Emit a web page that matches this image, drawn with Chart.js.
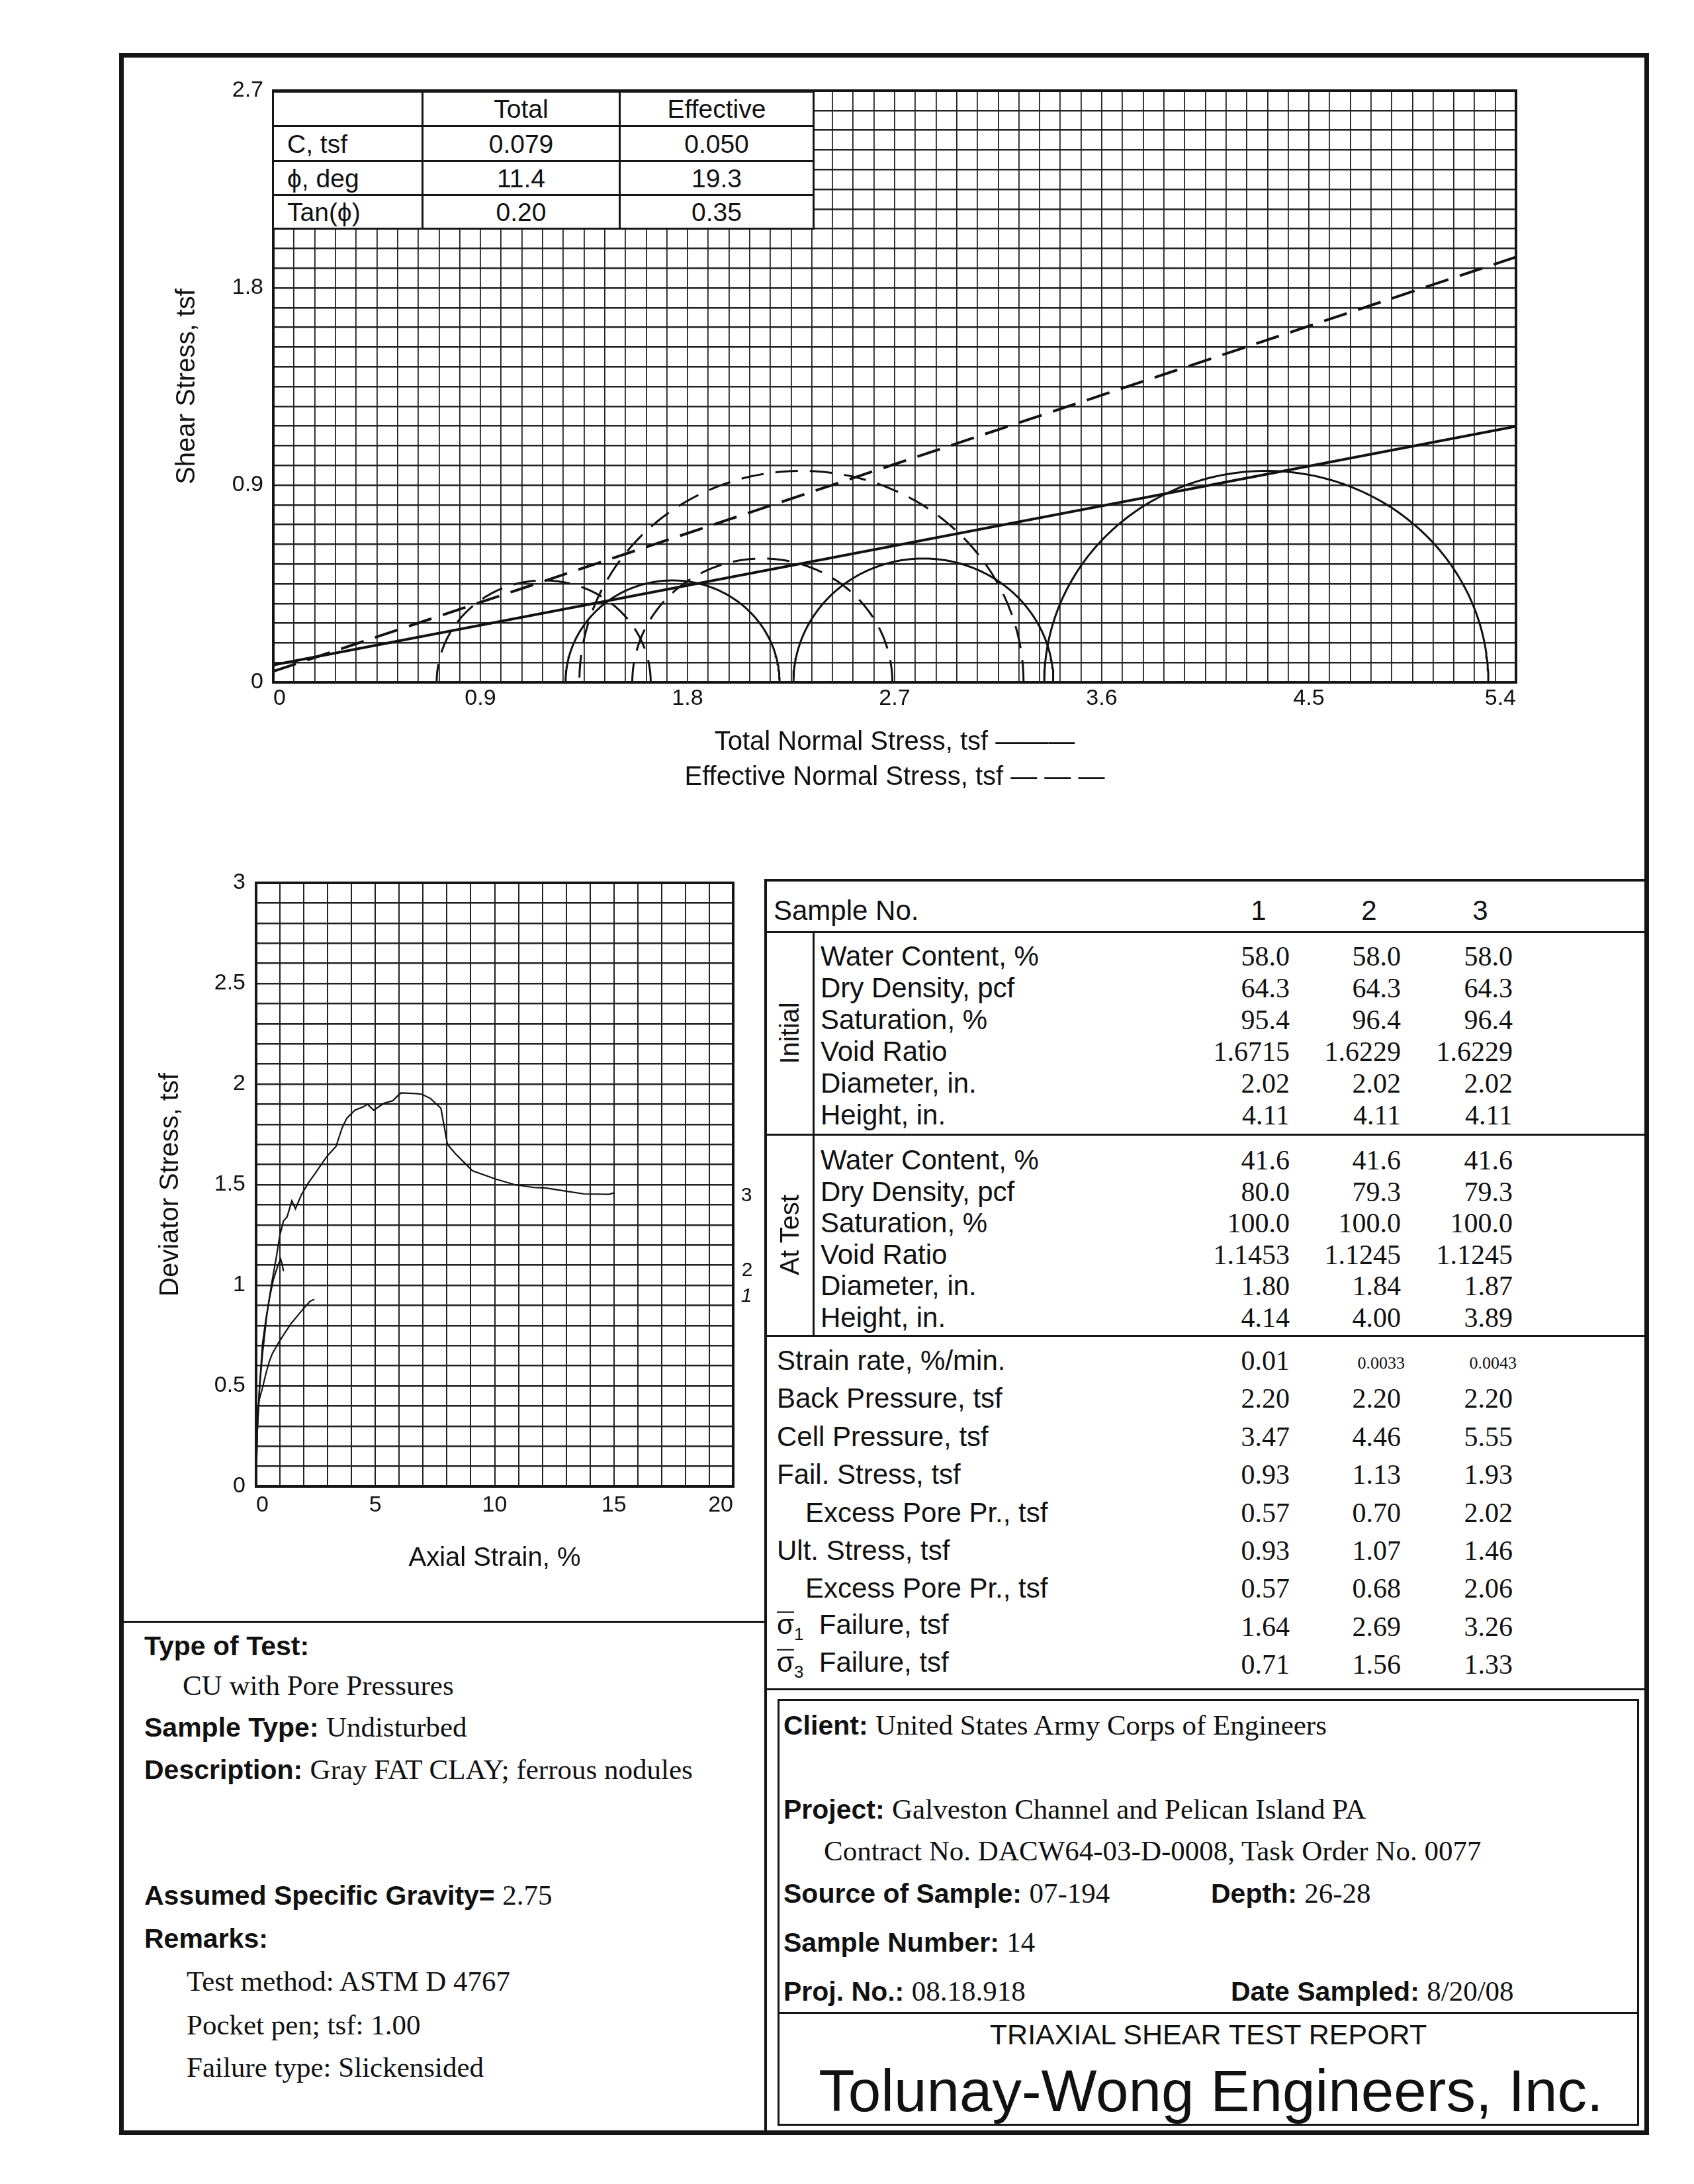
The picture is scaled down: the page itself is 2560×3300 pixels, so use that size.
<!DOCTYPE html>
<html>
<head>
<meta charset="utf-8">
<title>Triaxial Shear Test Report</title>
<script src="https://cdn.jsdelivr.net/npm/chart.js@4.4.0/dist/chart.umd.min.js"></script>
<style>
  html, body { margin: 0; padding: 0; background: #fff; }
  body {
    width: 2560px; height: 3300px; position: relative; overflow: hidden;
    font-family: 'Liberation Sans', Arial, sans-serif; color: #111;
  }
  .frame { position: absolute; left: 180px; top: 80px; width: 2312px; height: 3146px;
           border: 7px solid #151515; box-sizing: border-box; }
  .rule { position: absolute; background: #151515; }
  .box { position: absolute; border: 3px solid #151515; box-sizing: border-box; }
  .txt { position: absolute; white-space: nowrap; line-height: 1; transform: translateY(-50%); }
  .bar { display: inline-block; border-top: 2px solid #111; line-height: 0.85; }
  b { font-family: 'Liberation Sans', Arial, sans-serif; font-weight: bold; }
  canvas { position: absolute; }
  #cfTable { position: absolute; left: 411px; top: 137px; width: 817px; border-collapse: collapse;
             table-layout: fixed; background: #fff; font-size: 39px; }
  #cfTable td { border: 3px solid #151515; padding: 0; line-height: 1; text-align: center; }
  #cfTable td.lab { text-align: left; padding-left: 20px; }
</style>
</head>
<body>

<div class="frame"></div>

<canvas id="mohr" width="2150" height="1150" style="left:200px; top:100px; width:2150px; height:1150px;"></canvas>
<canvas id="strain" width="960" height="1110" style="left:200px; top:1290px; width:960px; height:1110px;"></canvas>
<table id="cfTable"></table>

<!-- lower right table rules -->
<div class="rule" style="left:1155px; top:1328px; width:1330px; height:4px;"></div>
<div class="rule" style="left:1155px; top:1407px; width:1330px; height:3px;"></div>
<div class="rule" style="left:1155px; top:1713px; width:1330px; height:3px;"></div>
<div class="rule" style="left:1155px; top:2017px; width:1330px; height:3px;"></div>
<div class="rule" style="left:1155px; top:2551px; width:1330px; height:3px;"></div>
<div class="rule" style="left:1228px; top:1407px; width:3px; height:612px;"></div>
<div class="rule" style="left:1155px; top:1328px; width:4px; height:1892px;"></div>
<div class="rule" style="left:186px; top:2449px; width:971px; height:3px;"></div>
<div class="box" style="left:1175px; top:2567px; width:1302px; height:645px;"></div>
<div class="rule" style="left:1175px; top:3040px; width:1302px; height:3px;"></div>

<script>
// ---- strength envelope table ----
const envelopeCols = ['Total', 'Effective'];
const cohesion = [0.079, 0.050];
const phiDeg = [11.4, 19.3];
const tanPhi = [0.20, 0.35];

// ---- test results per sample (tsf) ----
const sampleNos = ['1', '2', '3'];
const cellPressure = [3.47, 4.46, 5.55];
const backPressure = [2.20, 2.20, 2.20];
const failStress = [0.93, 1.13, 1.93];
const failPorePr = [0.57, 0.70, 2.02];
const ultStress = [0.93, 1.07, 1.46];
const ultPorePr = [0.57, 0.68, 2.06];
const sigma1Eff = [1.64, 2.69, 3.26];
const sigma3Eff = [0.71, 1.56, 1.33];
const strainRate = ['0.01', '0.0033', '0.0043'];

// ---- specimen properties ----
const propLabels = ['Water Content, %', 'Dry Density, pcf', 'Saturation, %', 'Void Ratio', 'Diameter, in.', 'Height, in.'];
const initialValues = [
  ['58.0', '58.0', '58.0'], ['64.3', '64.3', '64.3'], ['95.4', '96.4', '96.4'],
  ['1.6715', '1.6229', '1.6229'], ['2.02', '2.02', '2.02'], ['4.11', '4.11', '4.11']
];
const atTestValues = [
  ['41.6', '41.6', '41.6'], ['80.0', '79.3', '79.3'], ['100.0', '100.0', '100.0'],
  ['1.1453', '1.1245', '1.1245'], ['1.80', '1.84', '1.87'], ['4.14', '4.00', '3.89']
];

// ---- stress-strain curves (axial strain %, deviator stress tsf) ----
const strain1 = [0, 0.03, 0.13, 0.27, 0.41, 0.55, 0.68, 0.92, 1.19, 1.47, 1.75, 2.03, 2.26, 2.44];
const stress1 = [0, 0.33, 0.43, 0.49, 0.56, 0.62, 0.66, 0.71, 0.76, 0.81, 0.85, 0.89, 0.92, 0.93];
const strain2 = [0, 0.05, 0.16, 0.27, 0.41, 0.55, 0.73, 0.92, 1.03, 1.08, 1.15];
const stress2 = [0, 0.27, 0.52, 0.71, 0.83, 0.93, 1.03, 1.10, 1.13, 1.11, 1.07];
const strain3 = [0, 0.05, 0.13, 0.27, 0.45, 0.64, 0.85, 1.0, 1.15, 1.3, 1.5, 1.65, 1.9, 2.2, 2.47, 2.73,
  3.0, 3.35, 3.6, 3.8, 4.14, 4.5, 4.67, 4.93, 5.37, 5.73, 5.94, 6.08, 6.7, 6.96, 7.31, 7.75, 8.02,
  8.37, 8.81, 9.07, 10.04, 10.84, 11.63, 12.16, 13.13, 13.74, 14.8, 15.03];
const stress3 = [0, 0.27, 0.47, 0.66, 0.85, 1.0, 1.14, 1.25, 1.32, 1.34, 1.42, 1.38, 1.45, 1.51, 1.555, 1.60,
  1.645, 1.69, 1.78, 1.83, 1.87, 1.887, 1.90, 1.87, 1.905, 1.917, 1.942, 1.956, 1.953, 1.949, 1.928, 1.88, 1.70,
  1.652, 1.60, 1.569, 1.528, 1.50, 1.486, 1.483, 1.465, 1.454, 1.452, 1.46];

// ---- axis tick labels ----
const normalTickLabels = ['0', '0.9', '1.8', '2.7', '3.6', '4.5', '5.4'];
const shearTickLabels = ['0', '0.9', '1.8', '2.7'];
const strainTickLabels = ['0', '5', '10', '15', '20'];
const deviatorTickLabels = ['0', '0.5', '1', '1.5', '2', '2.5', '3'];

Chart.defaults.font.family = "'Liberation Sans', Arial, sans-serif";
Chart.defaults.color = '#111';

/**
 * Draws a heavy border round the plot area
 */
const framePlugin = {
  id: 'frame',
  afterDatasetsDraw(chart, args, opts) {
    const { ctx, chartArea: a } = chart;
    ctx.save();
    ctx.strokeStyle = '#151515';
    ctx.lineWidth = opts.width || 4;
    ctx.strokeRect(a.left, a.top, a.right - a.left, a.bottom - a.top);
    ctx.restore();
  }
};

// Upper half of a Mohr circle between two principal stresses
function halfCircle(lo, hi) {
  const c = (lo + hi) / 2;
  const r = (hi - lo) / 2;
  const pts = [];
  for (let i = 0; i <= 160; i++) {
    const t = Math.PI * i / 160;
    pts.push({ x: c + r * Math.cos(t), y: r * Math.sin(t) });
  }
  return pts;
}

function gridValues(step, count) {
  return Array.from({ length: count + 1 }, (_, i) => +(i * step).toFixed(3));
}

// ---- Mohr circle chart ----
const normalMax = 5.4;
const mohrSets = [];
sampleNos.forEach((s, i) => {
  const s3 = cellPressure[i] - backPressure[i];
  mohrSets.push({ data: halfCircle(s3, s3 + failStress[i]), borderWidth: 3 });
  mohrSets.push({ data: halfCircle(sigma3Eff[i], sigma1Eff[i]), borderWidth: 3, borderDash: [34, 18] });
});
envelopeCols.forEach((name, i) => {
  const slope = Math.tan(phiDeg[i] * Math.PI / 180);
  mohrSets.push({
    data: [{ x: 0, y: cohesion[i] }, { x: normalMax, y: cohesion[i] + slope * normalMax }],
    borderWidth: 4,
    borderDash: i === 1 ? [36, 18] : []
  });
});
mohrSets.forEach(d => {
  d.showLine = true;
  d.borderColor = '#111';
  d.pointRadius = 0;
  d.fill = false;
});

new Chart(document.getElementById('mohr'), {
  type: 'scatter',
  data: { datasets: mohrSets },
  options: {
    responsive: false,
    animation: false,
    layout: { padding: { top: 37, right: 59, left: 0, bottom: 0 } },
    plugins: { legend: { display: false }, tooltip: { enabled: false }, frame: { width: 4 } },
    scales: {
      x: {
        type: 'linear', min: 0, max: normalMax,
        afterBuildTicks: s => { s.ticks = gridValues(0.09, 60).map(v => ({ value: v })); },
        afterFit: s => { s.height = 219; },
        grid: { color: '#222', lineWidth: 1.8, drawTicks: false },
        border: { display: false },
        ticks: {
          autoSkip: false, maxRotation: 0, minRotation: 0, padding: 4, align: 'inner', font: { size: 34 },
          callback: (v, i) => (i % 10 === 0 ? normalTickLabels[i / 10] : '')
        },
        title: {
          display: true,
          text: ['Total Normal Stress, tsf \u2014\u2014\u2014', 'Effective Normal Stress, tsf \u2014 \u2014 \u2014'],
          font: { size: 40, lineHeight: 1.32 },
          padding: { top: 0, bottom: 49 }
        }
      },
      y: {
        type: 'linear', min: 0, max: 2.7,
        afterBuildTicks: s => { s.ticks = gridValues(0.09, 30).map(v => ({ value: v })); },
        afterFit: s => { s.width = 213; },
        grid: { color: '#222', lineWidth: 2.5, drawTicks: false },
        border: { display: false },
        ticks: {
          autoSkip: false, padding: 15, font: { size: 34 },
          callback: (v, i) => (i % 10 === 0 ? shearTickLabels[i / 10] : '')
        },
        title: {
          display: true, text: 'Shear Stress, tsf',
          font: { size: 40, lineHeight: 1.2 },
          padding: { top: 59, bottom: 0 }
        }
      }
    }
  },
  plugins: [framePlugin]
});

// ---- stress-strain chart ----
const curveSets = [[strain1, stress1], [strain2, stress2], [strain3, stress3]].map(([xs, ys]) => ({
  data: xs.map((x, i) => ({ x, y: ys[i] })),
  showLine: true, borderColor: '#111', borderWidth: 2.2, pointRadius: 0, fill: false
}));

new Chart(document.getElementById('strain'), {
  type: 'scatter',
  data: { datasets: curveSets },
  options: {
    responsive: false,
    animation: false,
    layout: { padding: { top: 44, right: 52, left: 0, bottom: 0 } },
    plugins: { legend: { display: false }, tooltip: { enabled: false }, frame: { width: 4 } },
    scales: {
      x: {
        type: 'linear', min: 0, max: 20,
        afterBuildTicks: s => { s.ticks = gridValues(1, 20).map(v => ({ value: v })); },
        afterFit: s => { s.height = 154; },
        grid: { color: '#222', lineWidth: 2, drawTicks: false },
        border: { display: false },
        ticks: {
          autoSkip: false, maxRotation: 0, minRotation: 0, padding: 8, align: 'inner', font: { size: 34 },
          callback: (v, i) => (i % 5 === 0 ? strainTickLabels[i / 5] : '')
        },
        title: {
          display: true, text: 'Axial Strain, %',
          font: { size: 40, lineHeight: 1.2 },
          padding: { top: 0, bottom: 21 }
        }
      },
      y: {
        type: 'linear', min: 0, max: 3,
        afterBuildTicks: s => { s.ticks = gridValues(0.1, 30).map(v => ({ value: v })); },
        afterFit: s => { s.width = 187; },
        grid: { color: '#222', lineWidth: 2.6, drawTicks: false },
        border: { display: false },
        ticks: {
          autoSkip: false, padding: 16, font: { size: 34 },
          callback: (v, i) => (i % 5 === 0 ? deviatorTickLabels[i / 5] : '')
        },
        title: {
          display: true, text: 'Deviator Stress, tsf',
          font: { size: 40, lineHeight: 1.2 },
          padding: { top: 34, bottom: 0 }
        }
      }
    }
  },
  plugins: [framePlugin]
});

// ---- envelope parameter table ----
const cfTable = document.getElementById('cfTable');
cfTable.innerHTML =
  '<colgroup><col style="width:226px"><col style="width:298px"><col style="width:293px"></colgroup>' +
  `<tr style="height:52px"><td></td><td>${envelopeCols[0]}</td><td>${envelopeCols[1]}</td></tr>` +
  `<tr style="height:53px"><td class="lab">C, tsf</td><td>${cohesion[0].toFixed(3)}</td><td>${cohesion[1].toFixed(3)}</td></tr>` +
  `<tr style="height:51px"><td class="lab">\u03D5, deg</td><td>${phiDeg[0].toFixed(1)}</td><td>${phiDeg[1].toFixed(1)}</td></tr>` +
  `<tr style="height:51px"><td class="lab">Tan(\u03D5)</td><td>${tanPhi[0].toFixed(2)}</td><td>${tanPhi[1].toFixed(2)}</td></tr>`;

// ---- text helpers ----
function addText(html, x, y, style, align) {
  const d = document.createElement('div');
  d.className = 'txt';
  d.innerHTML = html;
  d.style.cssText += style || '';
  d.style.top = y + 'px';
  if (align === 'right') {
    d.style.right = (2560 - x) + 'px';
  } else if (align === 'center') {
    d.style.left = x + 'px';
    d.style.transform = 'translate(-50%, -50%)';
  } else if (align === 'vertical') {
    d.style.left = x + 'px';
    d.style.transform = 'translate(-50%, -50%) rotate(-90deg)';
  } else {
    d.style.left = x + 'px';
  }
  document.body.appendChild(d);
}

// curve numbers beside the stress-strain plot
addText('3', 1128, 1805, 'font-size:30px;', 'center');
addText('2', 1129, 1918, 'font-size:30px;', 'center');
addText('<i>1</i>', 1128, 1957, 'font-size:30px;', 'center');

// ---- sample table ----
const valueRight = [1949, 2117, 2286];
const headerCenter = [1902, 2069, 2237];
const sansRow = 'font-size:42px;';
const serifRow = 'font-family:"Liberation Serif","Times New Roman",serif; font-size:42px;';

addText('Sample No.', 1169, 1376, sansRow);
sampleNos.forEach((s, i) => addText(s, headerCenter[i], 1376, sansRow, 'center'));

addText('Initial', 1193, 1561, 'font-size:40px;', 'vertical');
addText('At Test', 1193, 1866, 'font-size:40px;', 'vertical');

propLabels.forEach((lab, r) => {
  const y1 = 1445 + r * 48;
  const y2 = 1753 + r * 47.5;
  addText(lab, 1240, y1, sansRow);
  addText(lab, 1240, y2, sansRow);
  initialValues[r].forEach((v, i) => addText(v, valueRight[i], y1, serifRow, 'right'));
  atTestValues[r].forEach((v, i) => addText(v, valueRight[i], y2, serifRow, 'right'));
});

const fix2 = a => a.map(v => v.toFixed(2));
const sigmaBar = n => `<span class="bar">\u03C3</span><sub style="font-size:26px">${n}</sub>&nbsp; Failure, tsf`;
const lowerRows = [
  ['Strain rate, %/min.', 1174, strainRate],
  ['Back Pressure, tsf', 1174, fix2(backPressure)],
  ['Cell Pressure, tsf', 1174, fix2(cellPressure)],
  ['Fail. Stress, tsf', 1174, fix2(failStress)],
  ['Excess Pore Pr., tsf', 1217, fix2(failPorePr)],
  ['Ult. Stress, tsf', 1174, fix2(ultStress)],
  ['Excess Pore Pr., tsf', 1217, fix2(ultPorePr)],
  [sigmaBar(1), 1174, fix2(sigma1Eff)],
  [sigmaBar(3), 1174, fix2(sigma3Eff)]
];
lowerRows.forEach(([lab, x, vals], r) => {
  const y = 2056 + r * 57.4;
  addText(lab, x, y, sansRow);
  vals.forEach((v, i) => {
    const small = r === 0 && i > 0;
    addText(v, valueRight[i] + (small ? 6 : 0), y + (small ? 4 : 0),
      small ? 'font-family:"Liberation Serif",serif; font-size:26px;' : serifRow, 'right');
  });
});

// ---- description block (left) ----
const serifTxt = 'font-family:"Liberation Serif","Times New Roman",serif; font-size:43px;';
const boldTxt = 'font-size:41px;';
const sv = t => `<span style="font-family:'Liberation Serif','Times New Roman',serif; font-size:43px; font-weight:normal">${t}</span>`;

addText('<b>Type of Test:</b>', 218, 2487, boldTxt);
addText('CU with Pore Pressures', 276, 2546, serifTxt);
addText('<b>Sample Type:</b> ' + sv('Undisturbed'), 218, 2609, boldTxt);
addText('<b>Description:</b> ' + sv('Gray FAT CLAY; ferrous nodules'), 218, 2673, boldTxt);
addText('<b>Assumed Specific Gravity=</b> ' + sv('2.75'), 218, 2863, boldTxt);
addText('<b>Remarks:</b>', 218, 2929, boldTxt);
addText('Test method: ASTM D 4767', 282, 2993, serifTxt);
addText('Pocket pen; tsf: 1.00', 282, 3059, serifTxt);
addText('Failure type: Slickensided', 282, 3123, serifTxt);

// ---- client block (right) ----
addText('<b>Client:</b> ' + sv('United States Army Corps of Engineers'), 1184, 2606, boldTxt);
addText('<b>Project:</b> ' + sv('Galveston Channel and Pelican Island PA'), 1184, 2733, boldTxt);
addText('Contract No. DACW64-03-D-0008, Task Order No. 0077', 1245, 2796, serifTxt);
addText('<b>Source of Sample:</b> ' + sv('07-194'), 1184, 2860, boldTxt);
addText('<b>Depth:</b> ' + sv('26-28'), 1830, 2860, boldTxt);
addText('<b>Sample Number:</b> ' + sv('14'), 1184, 2934, boldTxt);
addText('<b>Proj. No.:</b> ' + sv('08.18.918'), 1184, 3008, boldTxt);
addText('<b>Date Sampled:</b> ' + sv('8/20/08'), 1860, 3008, boldTxt);
addText('TRIAXIAL SHEAR TEST REPORT', 1826, 3074, 'font-size:43px;', 'center');
addText('Tolunay-Wong Engineers, Inc.', 1830, 3159, 'font-size:89px;', 'center');
</script>
</body>
</html>
